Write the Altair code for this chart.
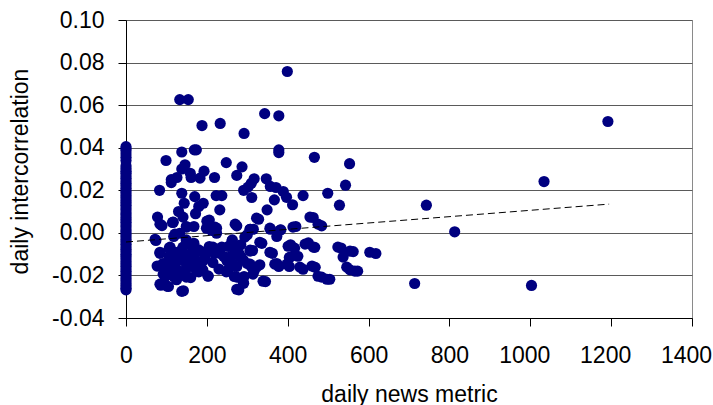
import altair as alt
import pandas as pd

# ---- data ----
zero_col_corr = [0.0405, 0.0395, 0.0385, 0.037, 0.0355, 0.034, 0.0315, 0.0302, 0.029, 0.028,
                 0.0268, 0.0257, 0.0245, 0.0233, 0.0222, 0.021, 0.0198, 0.0187, 0.0176, 0.0164,
                 0.0152, 0.0141, 0.013, 0.0118, 0.0107, 0.0095, 0.0084, 0.0072, 0.0061, 0.005,
                 0.0038, 0.0027, 0.0015, 0.0004, -0.0008, -0.0019, -0.0031, -0.0042, -0.0054,
                 -0.0065, -0.0077, -0.0088, -0.01, -0.0111, -0.0123, -0.0134, -0.0146, -0.0157,
                 -0.0169, -0.018, -0.0192, -0.0203, -0.0215, -0.0226, -0.0238, -0.0249, -0.026,
                 -0.0268]

news_metric = [
    399, 133, 154, 343, 378, 188, 233, 292, 1192, 138, 169, 174, 378, 378, 99, 248, 466, 553,
    287, 146, 138, 159, 193, 112, 126, 161, 183, 219, 274, 317, 347, 310, 83, 112, 291, 302,
    311, 357, 371, 389, 397, 367, 412, 438, 499, 543, 528, 743, 1034, 349, 328, 463, 484, 420,
    223, 237, 191, 170, 172, 180, 138, 144, 130, 115, 78, 89, 232, 206, 199, 212, 224, 224,
    813, 274, 315, 357, 383, 149, 168,
    714, 1003, 618, 573, 554, 562, 532, 467, 451, 468, 484, 504, 438, 407, 417, 404, 404, 425,
    373, 362, 373, 378, 345, 336, 300, 313, 331, 317, 294, 268, 279, 253, 268, 279, 291, 300,
    242, 219, 74, 84, 92, 86, 105, 142, 149, 118, 97, 133, 118, 149, 168, 180, 196, 203, 190,
    159, 128, 107, 128, 149, 164, 107, 138, 149, 118, 97, 175, 180, 136, 107, 196, 206, 232,
    248, 263, 274, 284, 310, 290, 253, 263, 284, 292,
    84, 117, 141, 200, 270, 72, 121, 150, 220, 307, 84, 109, 141, 166, 215, 237, 262, 307,
    92, 126, 158, 190, 250, 282, 92, 134, 175, 203, 250, 274, 314, 84, 101, 138, 274, 77, 109,
    323, 307, 356, 381, 413, 455, 475, 331, 307, 356, 401, 443, 463, 524, 554, 406, 368, 398,
    430, 460, 537, 546, 566, 307, 323, 339, 289, 475, 497, 603,
    120, 135, 155, 170, 185, 145, 125, 160, 115, 190, 165, 215, 230, 260,
]

intercorr = [
    0.0758, 0.0626, 0.0626, 0.056, 0.055, 0.0504, 0.0514, 0.0467, 0.0523, 0.038, 0.039, 0.039,
    0.039, 0.0377, 0.034, 0.033, 0.0355, 0.0325, 0.031, 0.032, 0.030, 0.028, 0.029, 0.025,
    0.026, 0.026, 0.0257, 0.026, 0.027, 0.0254, 0.0254, 0.0233, 0.020, 0.0236, 0.020, 0.0215,
    0.0166, 0.0218, 0.0213, 0.0194, 0.0167, 0.0155, 0.0132, 0.0175, 0.0186, 0.0224, 0.013,
    0.013, 0.0241, 0.0108, 0.0064, 0.0072, 0.0033, 0.003, 0.0175, 0.0175, 0.0139, 0.017,
    0.009, 0.0124, 0.0186, 0.0139, 0.010, 0.0049, 0.0074, 0.0034, 0.0108, 0.006, 0.0022,
    0.0011, 0.0022, -0.0002, 0.0005, 0.0033, 0.0017, 0.0017, 0.0014, 0.003, 0.003,
    -0.0238, -0.0247, -0.0097, -0.018, -0.0174, -0.0088, -0.0071, -0.0068, -0.0047, -0.0162,
    -0.0208, -0.0218, -0.0171, -0.0056, -0.0072, -0.0116, -0.0158, -0.011, -0.0017, -0.0096,
    -0.0144, -0.0158, -0.0229, -0.0049, -0.0009, -0.0083, -0.015, -0.0177, -0.002, -0.0072,
    -0.0096, -0.0174, -0.0205, -0.0268, -0.0237, -0.0144, -0.0111, -0.0096, -0.0036, -0.0096,
    -0.0144, -0.0246, -0.0252, -0.0272, -0.0208, -0.0205, -0.0205, -0.0002, -0.0017, -0.0033,
    -0.0049, -0.008, -0.0119, -0.0202, -0.0174, -0.0158, -0.0127, -0.0111, -0.0174, -0.0144,
    -0.0096, -0.0072, -0.008, -0.0103, -0.0158, -0.0174, -0.0144, -0.0183, -0.0197, -0.019,
    -0.0096, -0.0064, -0.0096, -0.0183, -0.0144, -0.0158, -0.0111, -0.0158, -0.0127, -0.0064,
    -0.0033, -0.0056, -0.0205,
    0.0041, 0.005, 0.0074, 0.0055, 0.0041, -0.003, -0.0006, 0.0027, 0.0027, 0.0017, -0.0091,
    -0.0067, -0.0067, -0.0053, -0.0067, -0.0067, -0.0039, -0.0086, -0.0147, -0.0133, -0.0114,
    -0.0133, -0.0133, -0.0114, -0.0194, -0.0185, -0.018, -0.0204, -0.018, -0.0208, -0.0194,
    -0.0241, -0.025, -0.0275, -0.0265, -0.0156, -0.011,
    0.0069, 0.0017, 0.0022, 0.0013, 0.0027, 0.0074, 0.0041, -0.0044, -0.0081, -0.0091, -0.0063,
    -0.0053, -0.0067, -0.0067, -0.0086, -0.0114, -0.0147, -0.0147, -0.0161, -0.0156, -0.0114,
    -0.0161, -0.018, -0.0147, -0.0161, -0.0227, -0.0227, -0.0204, -0.0218, -0.0091,
    -0.009, -0.012, -0.015, -0.012, -0.016, -0.018, -0.022, -0.021, -0.014, -0.009, -0.007,
    -0.014, -0.017, -0.011,
]

trend_x = [0, 1195]
trend_y = [-0.0043, 0.0135]

x_ticks = [0, 200, 400, 600, 800, 1000, 1200, 1400]
y_ticks = [-0.04, -0.02, 0.0, 0.02, 0.04, 0.06, 0.08, 0.10]

pts = pd.DataFrame({
    "x": [0] * len(zero_col_corr) + news_metric,
    "y": zero_col_corr + intercorr,
})
trend = pd.DataFrame({"x": trend_x, "y": trend_y})

FONT = "Liberation Sans"

xscale = alt.Scale(domain=[0, 1400], nice=False, zero=False)
yscale = alt.Scale(domain=[-0.04, 0.10], nice=False, zero=False)

xaxis = alt.Axis(
    values=x_ticks, format="d", grid=False, title="daily news metric",
    domainColor="#000000", domainWidth=1, tickColor="#000000", tickSize=8, tickWidth=1,
    labelFont=FONT, labelFontSize=23, labelColor="#000000", labelPadding=18,
    labelOffset={"condition": {"test": "datum.value >= 1000", "value": -6}, "value": 0},
    titleFont=FONT, titleFontSize=23, titleFontWeight="normal", titleColor="#000000",
    titleBaseline="alphabetic", titleY=83, labelFlush=False, labelOverlap=False,
)
yaxis = alt.Axis(
    values=y_ticks, grid=True, gridColor="#5a5a5a", gridWidth=1,
    labelExpr="(datum.value < -0.0001 ? '-' : '') + format(abs(datum.value), '.2f')",
    title="daily intercorrelation",
    domainColor="#000000", domainWidth=1, tickColor="#000000", tickSize=8, tickWidth=1,
    labelFont=FONT, labelFontSize=23, labelColor="#000000", labelPadding=14,
    titleFont=FONT, titleFontSize=23, titleFontWeight="normal", titleColor="#000000",
    titleBaseline="alphabetic", titleAngle=270, titleX=-99, titleY=151, titleAlign="center",
    labelFlush=False, labelOverlap=False,
)

points = alt.Chart(pts).mark_circle(size=125, color="#000080", opacity=1).encode(
    x=alt.X("x:Q", scale=xscale, axis=xaxis),
    y=alt.Y("y:Q", scale=yscale, axis=yaxis),
)

line = alt.Chart(trend).mark_line(color="#000000", strokeWidth=1, strokeDash=[7, 4]).encode(
    x=alt.X("x:Q", scale=xscale),
    y=alt.Y("y:Q", scale=yscale),
)

chart = alt.layer(points, line).properties(
    width=566, height=298,
    autosize=alt.AutoSizeParams(type="none"),
    padding={"left": 126, "top": 20, "right": 21, "bottom": 87},
    background="#ffffff",
).configure_view(stroke="#8a8a8a", strokeWidth=1)

chart.save("out.html", embed_options={"renderer": "svg", "actions": False})
